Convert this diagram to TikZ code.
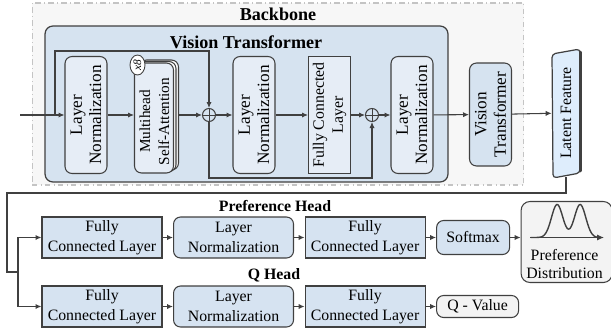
\documentclass[tikz,border=0pt]{standalone}
\usepackage{fontspec}
\setmainfont{Liberation Serif}
\usetikzlibrary{arrows.meta,positioning,calc,shapes.geometric}
\definecolor{ink}{RGB}{64,64,64}
\definecolor{frame}{RGB}{196,196,196}
\definecolor{bbfill}{RGB}{247,247,247}
\definecolor{vitfill}{RGB}{214,227,240}
\definecolor{blockfill}{RGB}{230,237,246}
\definecolor{headfill}{RGB}{214,227,241}
\definecolor{latentfill}{RGB}{222,237,252}
\definecolor{paper}{RGB}{243,243,243}

\tikzset{
  link/.style={-{Latex[length=3.4pt,width=3pt]}, ink, line width=0.6pt},
  wire/.style={ink, line width=0.6pt},
  title/.style={font=\bfseries\fontsize{10.3}{12}\selectfont, inner sep=0pt},
  headtitle/.style={font=\bfseries\fontsize{9}{11}\selectfont, inner sep=0pt},
  backbone/.style={draw=frame, dash dot, fill=bbfill, line width=0.6pt,
    minimum width=9.84cm, minimum height=3.64cm},
  vitbox/.style={draw=ink, fill=vitfill, rounded corners=4.5pt, line width=0.7pt,
    minimum width=8.06cm, minimum height=3.12cm},
  vblock/.style={draw=ink, fill=blockfill, rounded corners=4pt, line width=0.6pt,
    rotate=90, minimum width=2.34cm, minimum height=0.84cm, align=center,
    inner sep=1pt, font=\fontsize{9.8}{11}\selectfont},
  fcblock/.style={vblock, rounded corners=0pt, font=\fontsize{9}{10.8}\selectfont},
  attn/.style={vblock, minimum width=2.2cm, minimum height=0.78cm},
  vtext/.style={rotate=90, align=center, inner sep=0pt,
    font=\fontsize{8.7}{10.8}\selectfont},
  sum/.style={draw=ink, circle, minimum size=0.26cm, inner sep=0pt, line width=0.6pt,
    path picture={\draw[ink, line width=0.5pt]
      (path picture bounding box.north) -- (path picture bounding box.south)
      (path picture bounding box.west) -- (path picture bounding box.east);}},
  tag/.style={draw=ink, fill=white, ellipse, rotate=90, inner sep=0.4pt,
    minimum width=0.4cm, minimum height=0.3cm, line width=0.5pt,
    font=\itshape\fontsize{6.5}{7}\selectfont},
  headfc/.style={draw=ink, fill=headfill, line width=0.6pt, minimum width=2.4cm,
    minimum height=0.82cm, align=center, inner sep=1pt,
    font=\fontsize{9}{11.3}\selectfont},
  headln/.style={headfc, rounded corners=4pt},
  smallbox/.style={headln, minimum width=1.46cm, minimum height=0.68cm},
  outbox/.style={smallbox, fill=paper, minimum width=1.64cm, minimum height=0.44cm},
  distbox/.style={draw=ink, fill=paper, rounded corners=5pt, line width=0.6pt,
    minimum width=1.82cm, minimum height=1.62cm},
}

\begin{document}
\begin{tikzpicture}[x=0.02cm, y=-0.02cm, node distance=0.21cm]
  \useasboundingbox (0,0) rectangle (611,335);

  % backbone frame and vision transformer block
  \node[backbone] (backbone) at (278,94) {};
  \node[title] (bbtitle) at (278,14) {Backbone};
  \node[vitbox] (vit) at (246.5,104) {};
  \node[title] (vittitle) at (246,42) {Vision Transformer};

  % encoder layer
  \node[vblock] (ln1) at (86,115) {Layer\\Normalization};
  \foreach \k/\s in {3/5, 2/2.5}
    \node[attn, fill=white] (mhsa\k) at (154+\s,118-0.6*\s) {};
  \node[attn] (mhsa) at (154,118) {};
  \node[vtext] (mhsalabel) at (154.5,121.5) {Multihead\\Self-Attention};
  \node[tag] (rep) at (137.5,65) {x8};
  \node[sum] (plus1) at (209,115) {};
  \node[vblock] (ln2) at (254,115) {Layer\\Normalization};
  \node[fcblock] (fc) at (329.5,115) {Fully Connected\\Layer};
  \node[sum] (plus2) at (372,115) {};
  \node[vblock] (ln3) at (412,115) {Layer\\Normalization};

  % second transformer and latent feature
  \node[vblock, fill=vitfill, minimum width=2.06cm] (vt) at (490.5,114.5)
    {Vision\\Transformer};
  \draw[ink, fill=latentfill, rounded corners=2pt, line width=0.7pt]
    (552,54) -- (580,49) -- (580,173) -- (553,178) -- cycle;
  \draw[ink, line width=1.6pt, line cap=round] (580.5,52) -- (580.5,171);
  \node[rotate=90, minimum width=2.56cm, minimum height=0.56cm,
    font=\fontsize{9}{11}\selectfont] (latent) at (566,113) {Latent Feature};

  % main path
  \coordinate (input) at (20,115);
  \coordinate (fork) at (55,115);
  \coordinate (skip) at (55,51);
  \coordinate (under) at (209,178);
  \draw[link] (input) -- (ln1);
  \draw[link] (fork) -- (skip) -| (plus1);
  \draw[link] (ln1) -- (ln1 -| mhsa.north);
  \draw[link] (mhsa3.south |- plus1) -- (plus1);
  \draw[link] (plus1) -- (ln2);
  \draw[link] (ln2) -- (fc);
  \draw[link] (fc) -- (plus2);
  \draw[link] (plus2) -- (ln3);
  \draw[link] (plus1) -- (under) -| (plus2);
  \draw[link] (ln3) -- (vt);
  \draw[link] (vt) -- (latent);

  % preference head
  \node[headtitle] (ptitle) at (275,206) {Preference Head};
  \node[headfc] (pfc1) at (102,237.5) {Fully\\Connected Layer};
  \node[headln, right=of pfc1] (pln) {Layer\\Normalization};
  \node[headfc, right=of pln] (pfc2) {Fully\\Connected Layer};
  \node[smallbox, right=of pfc2] (softmax) {Softmax};
  \node[distbox, right=of softmax, yshift=-0.09cm] (dist) {};
  \begin{scope}[shift={(dist.center)}]
    \draw[ink, line width=0.8pt, smooth] plot[domain=-36:34, samples=70]
      (\x, {-4.5-33*exp(-((\x+9.5)/8)^2)-33*exp(-((\x-13.5)/8)^2)});
    \draw[-{Latex[length=4pt,width=3.5pt]}, ink, line width=0.8pt]
      (-36.5,-4.5) -- (37.5,-4.5);
  \end{scope}
  \node[align=center, inner sep=0pt, font=\fontsize{9}{10.3}\selectfont]
    (distlabel) at (564.5,264) {Preference\\Distribution};

  % Q head
  \node[headtitle] (qtitle) at (274,275) {Q Head};
  \node[headfc] (qfc1) at (102,306.5) {Fully\\Connected Layer};
  \node[headln, right=of qfc1] (qln) {Layer\\Normalization};
  \node[headfc, right=of qln] (qfc2) {Fully\\Connected Layer};
  \node[outbox, right=of qfc2] (qval) {Q - Value};

  \draw[link] (pfc1) -- (pln);
  \draw[link] (pln) -- (pfc2);
  \draw[link] (pfc2) -- (softmax);
  \draw[link] (softmax) -- (softmax -| dist.west);
  \draw[link] (qfc1) -- (qln);
  \draw[link] (qln) -- (qfc2);
  \draw[link] (qfc2) -- (qval);

  % latent feature feeds both heads
  \coordinate (turn) at (7,193);
  \coordinate (split) at (18,272);
  \draw[wire] (latent.west) |- (turn) |- (split);
  \draw[link] (split) |- (pfc1);
  \draw[link] (split) |- (qfc1);
\end{tikzpicture}
\end{document}
